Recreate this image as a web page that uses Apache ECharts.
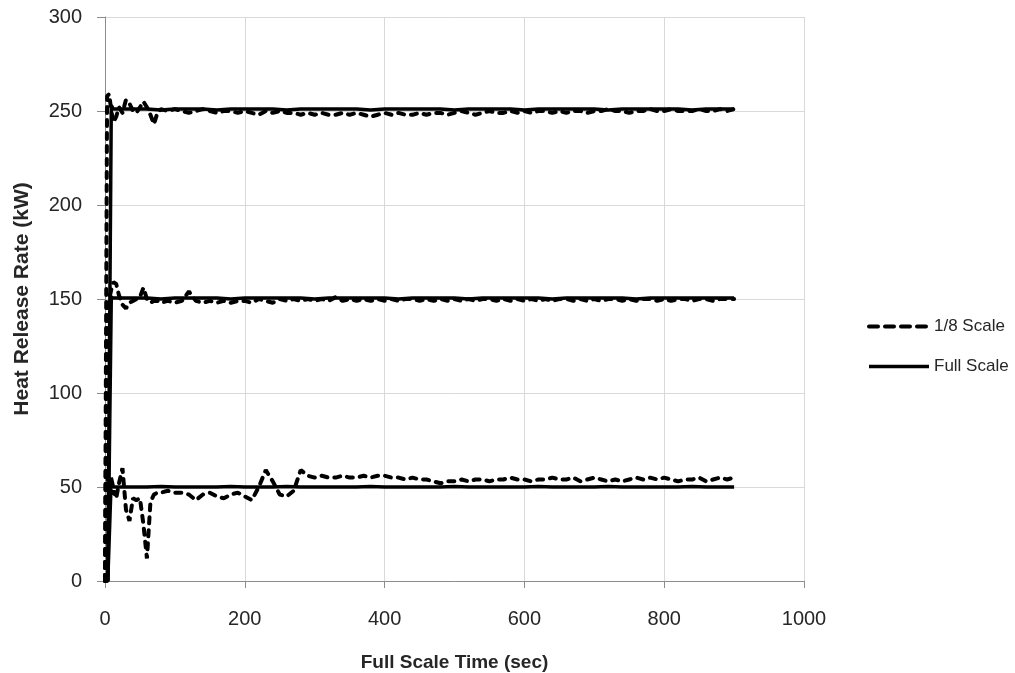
<!DOCTYPE html>
<html>
<head>
<meta charset="utf-8">
<script src="https://cdn.jsdelivr.net/npm/echarts@6/dist/echarts.min.js"></script>
<style>
  html, body { margin: 0; padding: 0; background: #fff; }
  #chart { width: 1015px; height: 673px; }
</style>
</head>
<body>
<div id="chart"></div>
<script>
// Sample times (s) for the 1/8-scale measurements, scaled to full-scale time
const tEighth = [0, 3, 6, 9, 12, 16, 20, 25, 30, 35, 40, 45, 50, 55, 60, 65, 70, 75, 80,
  90, 100, 110, 120, 130, 140, 150, 160, 170, 180,
  190, 200, 210, 220, 230, 240, 250, 260, 270, 280,
  290, 300, 310, 320, 330, 340, 350, 360, 370, 380,
  390, 400, 410, 420, 430, 440, 450, 460, 470, 480,
  490, 500, 510, 520, 530, 540, 550, 560, 570, 580,
  590, 600, 610, 620, 630, 640, 650, 660, 670, 680,
  690, 700, 710, 720, 730, 740, 750, 760, 770, 780,
  790, 800, 810, 820, 830, 840, 850, 860, 870, 880,
  890, 900];

// 1/8-scale heat release rate (kW), three burner settings
const eighth50 = [0, 56, 50, 45, 48, 44, 52, 60, 38, 32, 44, 43, 44, 30, 12, 42, 46, 47, 47,
  48, 47, 47, 46, 43, 46, 47, 45, 44, 46,
  47, 45, 43, 50, 59, 53, 46, 45, 48, 59,
  56, 55, 56, 55, 55, 56, 55, 55, 56, 55,
  56, 56, 55, 55, 54, 55, 54, 54, 53, 52,
  53, 53, 54, 53, 54, 54, 53, 54, 54, 55,
  54, 54, 53, 54, 54, 55, 54, 54, 55, 53,
  54, 55, 54, 53, 54, 53, 54, 55, 54, 55,
  54, 55, 54, 53, 54, 54, 55, 53, 54, 55,
  54, 55];

const eighth150 = [0, 145, 150, 155, 159, 158, 152, 147, 145, 148, 149, 150, 151, 156, 150, 148, 149, 149, 148,
  149, 148, 149, 154, 149, 148, 149, 148, 149, 148,
  149, 149, 148, 150, 149, 148, 150, 149, 150, 149,
  150, 149, 150, 149, 151, 149, 150, 149, 150, 149,
  150, 149, 150, 149, 150, 150, 149, 150, 149, 150,
  149, 150, 149, 150, 149, 150, 150, 149, 150, 149,
  150, 149, 150, 149, 150, 149, 150, 150, 149, 150,
  149, 150, 149, 150, 150, 149, 150, 149, 150, 150,
  149, 150, 149, 150, 150, 149, 150, 150, 149, 150,
  150, 150];

const eighth250 = [0, 258, 259, 250, 244, 247, 252, 249, 256, 254, 250, 249, 252, 255, 252, 248, 243, 249, 251,
  250, 251, 250, 249, 250, 251, 250, 249, 250, 250,
  249, 250, 249, 248, 250, 249, 250, 249, 249, 248,
  249, 248, 249, 248, 248, 249, 248, 249, 248, 247,
  248, 249, 248, 249, 248, 248, 249, 248, 249, 249,
  248, 249, 250, 249, 248, 249, 250, 249, 249, 250,
  249, 250, 249, 250, 250, 249, 250, 249, 250, 250,
  249, 250, 250, 251, 250, 250, 249, 250, 250, 251,
  250, 250, 251, 250, 250, 250, 251, 250, 250, 251,
  250, 251];

// Sample times (s) for the full-scale measurements
const tFull = [0, 4, 9, 12, 20,
  40, 60, 80, 100, 120, 140, 160, 180, 200, 220,
  240, 260, 280, 300, 320, 340, 360, 380, 400, 420,
  440, 460, 480, 500, 520, 540, 560, 580, 600, 620,
  640, 660, 680, 700, 720, 740, 760, 780, 800, 820,
  840, 860, 880, 900];

// Full-scale heat release rate (kW)
const full50 = [0, 0, 55, 50, 50,
  50, 50, 50.3, 50, 50, 50, 50, 50.3, 50, 50,
  50, 50.3, 50, 50, 50, 50, 50, 50.3, 50, 50,
  50, 50, 50, 50.3, 50, 50, 50, 50, 50, 50.3,
  50, 50, 50, 50, 50.3, 50, 50, 50, 50, 50,
  50.3, 50, 50, 50];

const full150 = [0, 0, 151, 150.5, 150.5,
  150.5, 150.5, 150, 150.5, 150.5, 150.5, 150.5, 150, 150.5, 150.5,
  150.5, 150.5, 150.5, 150, 150.5, 150.5, 150.5, 150.5, 150.5, 150,
  150.5, 150.5, 150.5, 150.5, 150, 150.5, 150.5, 150.5, 150.5, 150.5,
  150, 150.5, 150.5, 150.5, 150.5, 150.5, 150, 150.5, 150.5, 150.5,
  150.5, 150.5, 150.5, 150.5];

const full250 = [0, 0, 253, 251, 251,
  251, 251, 250.5, 251, 251, 251, 250.5, 251, 251, 251,
  251, 250.5, 251, 251, 251, 251, 251, 250.5, 251, 251,
  251, 251, 251, 250.5, 251, 251, 251, 251, 250.5, 251,
  251, 251, 251, 251, 250.5, 251, 251, 251, 251, 251,
  250.5, 251, 251, 251];

// Axis settings
const xTicks = { min: 0, max: 1000, interval: 200 };
const yTicks = { min: 0, max: 300, interval: 50 };
const legendNames = ['1/8 Scale', 'Full Scale'];

const pairs = (ts, vs) => ts.map((t, i) => [t, vs[i]]);

const dashStyle = { color: '#000', width: 4, type: [6, 7], cap: 'round' };
const legendDash = { color: '#000', width: 4, type: [9, 7], cap: 'round' };
const solidStyle = { color: '#000', width: 3.5, type: 'solid' };

const dashed = {
  type: 'line', name: legendNames[0], symbol: 'none', smooth: false,
  lineStyle: dashStyle, itemStyle: { color: '#000' }
};
const solid = {
  type: 'line', name: legendNames[1], symbol: 'none', smooth: false,
  lineStyle: solidStyle, itemStyle: { color: '#000' }
};

const chart = echarts.init(document.getElementById('chart'), null, { renderer: 'canvas' });

const tickFont = { fontFamily: 'Liberation Sans', fontSize: 20, color: '#262626' };
const axisGray = '#8c8c8c';
const gridGray = '#d9d9d9';

chart.setOption({
  animation: false,
  backgroundColor: '#fff',
  grid: { left: 105, right: 211, top: 17, bottom: 92, containLabel: false, outerBoundsMode: 'none' },
  legend: {
    data: [
      { name: legendNames[0], lineStyle: legendDash },
      { name: legendNames[1], lineStyle: solidStyle }
    ],
    orient: 'vertical',
    left: 862, top: 313,
    itemWidth: 60, itemHeight: 14, itemGap: 23,
    itemStyle: { opacity: 0 },
    textStyle: { fontFamily: 'Liberation Sans', fontSize: 17, color: '#262626' }
  },
  xAxis: {
    type: 'value',
    min: xTicks.min, max: xTicks.max, interval: xTicks.interval,
    name: 'Full Scale Time (sec)',
    nameLocation: 'middle', nameGap: 72,
    nameTextStyle: { fontFamily: 'Liberation Sans', fontSize: 19, fontWeight: 'bold', color: '#262626' },
    axisLine: { lineStyle: { color: axisGray, width: 1 } },
    axisTick: { show: true, inside: false, length: 7, lineStyle: { color: axisGray } },
    axisLabel: Object.assign({ margin: 28, formatter: v => String(v) }, tickFont),
    splitLine: { show: true, lineStyle: { color: gridGray, width: 1 } }
  },
  yAxis: {
    type: 'value',
    min: yTicks.min, max: yTicks.max, interval: yTicks.interval,
    name: 'Heat Release Rate (kW)',
    nameLocation: 'middle', nameGap: 72,
    nameTextStyle: { fontFamily: 'Liberation Sans', fontSize: 21, fontWeight: 'bold', color: '#262626' },
    axisLine: { show: true, lineStyle: { color: axisGray, width: 1 } },
    axisTick: { show: true, inside: false, length: 8, lineStyle: { color: axisGray } },
    axisLabel: Object.assign({ margin: 23 }, tickFont),
    splitLine: { show: true, lineStyle: { color: gridGray, width: 1 } }
  },
  series: [
    Object.assign({}, solid, { data: pairs(tFull, full50) }),
    Object.assign({}, solid, { data: pairs(tFull, full150) }),
    Object.assign({}, solid, { data: pairs(tFull, full250) }),
    Object.assign({}, dashed, { data: pairs(tEighth, eighth50) }),
    Object.assign({}, dashed, { data: pairs(tEighth, eighth150) }),
    Object.assign({}, dashed, { data: pairs(tEighth, eighth250) })
  ]
});
</script>
</body>
</html>
